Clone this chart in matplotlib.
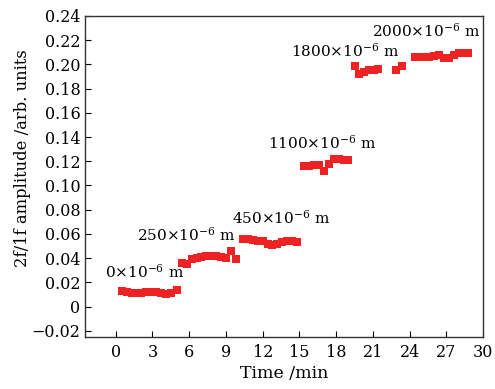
import matplotlib
matplotlib.use('Agg')
import matplotlib.pyplot as plt
from matplotlib.ticker import FuncFormatter

plt.rcParams['font.family'] = 'DejaVu Serif'
plt.rcParams['mathtext.fontset'] = 'dejavuserif'

# time (min) and 2f/1f amplitude for each step
t_0 = [0.5, 0.9, 1.3, 1.7, 2.1, 2.5, 2.9, 3.3, 3.7, 4.1, 4.5, 5.0]
v_0 = [0.013, 0.012, 0.011, 0.011, 0.011, 0.012, 0.012, 0.012, 0.011, 0.010, 0.011, 0.014]
t_250 = [5.4, 5.8, 6.2, 6.6, 7.0, 7.4, 7.8, 8.2, 8.6, 9.0, 9.4, 9.8]
v_250 = [0.036, 0.035, 0.039, 0.040, 0.041, 0.042, 0.042, 0.042, 0.041, 0.040, 0.046, 0.039]
t_450 = [10.4, 10.8, 11.2, 11.6, 12.0, 12.4, 12.8, 13.2, 13.6, 14.0, 14.4, 14.8]
v_450 = [0.056, 0.056, 0.055, 0.054, 0.054, 0.052, 0.051, 0.052, 0.053, 0.054, 0.054, 0.053]
t_1100 = [15.4, 15.8, 16.2, 16.6, 17.0, 17.4, 17.8, 18.2, 18.6, 19.0]
v_1100 = [0.116, 0.116, 0.117, 0.117, 0.112, 0.118, 0.122, 0.122, 0.121, 0.121]
t_1800 = [19.5, 19.9, 20.3, 20.7, 21.1, 21.4, 22.9, 23.4]
v_1800 = [0.199, 0.192, 0.194, 0.195, 0.195, 0.196, 0.195, 0.199]
t_2000 = [24.4, 24.8, 25.2, 25.6, 26.0, 26.4, 26.8, 27.2, 27.6, 28.0, 28.4, 28.8]
v_2000 = [0.206, 0.206, 0.206, 0.206, 0.207, 0.208, 0.205, 0.205, 0.208, 0.209, 0.209, 0.209]

labels = [r'0$\times$10$^{-6}$ m', r'250$\times$10$^{-6}$ m', r'450$\times$10$^{-6}$ m',
          r'1100$\times$10$^{-6}$ m', r'1800$\times$10$^{-6}$ m', r'2000$\times$10$^{-6}$ m']
label_x = [-0.9, 1.7, 9.5, 12.4, 14.3, 20.9]
label_y = [0.029, 0.059, 0.073, 0.135, 0.211, 0.228]

fig = plt.figure(figsize=(4.95, 3.89), dpi=100)
ax = fig.add_axes([0.172, 0.134, 0.804, 0.825])

red = '#ee2222'
for t, v in [(t_0, v_0), (t_250, v_250), (t_450, v_450),
             (t_1100, v_1100), (t_1800, v_1800), (t_2000, v_2000)]:
    ax.plot(t, v, 's', color=red, markersize=6.3, markeredgewidth=0)

for s, x, y in zip(labels, label_x, label_y):
    ax.text(x, y, s, fontsize=11, va='center', ha='left')

ax.set_xlim(-2.5, 30)
ax.set_ylim(-0.025, 0.24)
ax.set_xticks(range(0, 31, 3))
ax.set_yticks([i / 100 for i in range(-2, 25, 2)])

def yfmt(v, pos):
    if abs(v) < 1e-9:
        return '0'
    return f'{v:.2f}'.replace('-', '\u2212')

ax.yaxis.set_major_formatter(FuncFormatter(yfmt))
ax.tick_params(direction='in', length=4, labelsize=11.5, top=False, right=False)
ax.tick_params(axis='x', pad=5)
for sp in ax.spines.values():
    sp.set_linewidth(1.0)
    sp.set_color('#333333')

ax.set_xlabel('Time /min', fontsize=12.5, labelpad=3)
ax.set_ylabel('2f/1f amplitude /arb. units', fontsize=11.8, labelpad=2)
ax.yaxis.set_label_coords(-0.135, 0.557)

plt.savefig('out.png', dpi=100)
